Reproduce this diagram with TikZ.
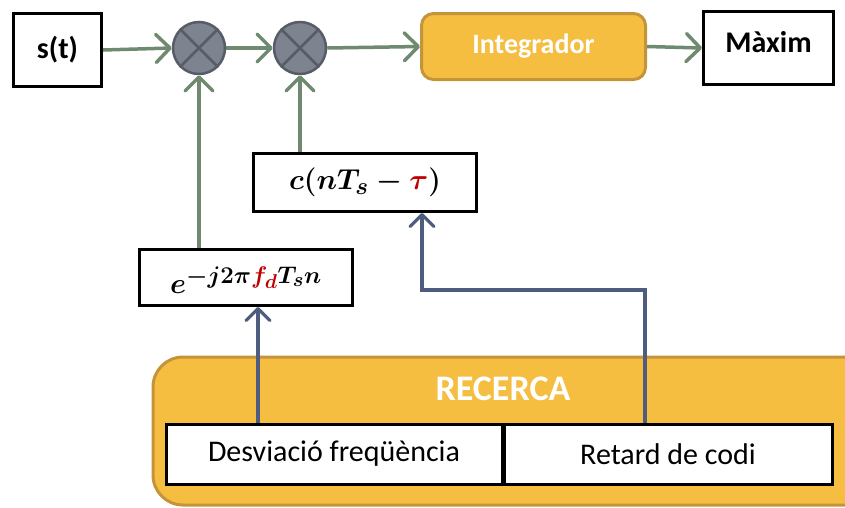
\documentclass[tikz,border=0pt]{standalone}
\usepackage{fontspec}
\setmainfont{Carlito}
\usetikzlibrary{arrows.meta}
\definecolor{flowgreen}{HTML}{6F8A6E}
\definecolor{linkblue}{HTML}{4E5D7E}
\definecolor{mixgray}{HTML}{7E8390}
\definecolor{mixedge}{HTML}{575C67}
\definecolor{amber}{HTML}{F5BE41}
\definecolor{amberedge}{HTML}{C4943A}
\definecolor{paramred}{HTML}{C00000}
% enlarged bold math for the replica formulas
\newcommand{\bigformula}[1]{\scalebox{1.16}{$#1$}}

\begin{document}
\begin{tikzpicture}[x=1pt,y=-1pt,
  blockbox/.style={draw=black, line width=3pt, fill=white, inner sep=0pt},
  amberbox/.style={draw=amberedge, line width=3pt, fill=amber, rounded corners=12pt, inner sep=0pt},
  mixer/.style={circle, draw=mixedge, line width=2.5pt, fill=mixgray, minimum size=52pt, inner sep=0pt},
  greenflow/.style={draw=flowgreen, line width=3.5pt, -{Straight Barb[length=14pt,width=28pt,round]}},
  blueflow/.style={draw=linkblue, line width=3.2pt, -{Straight Barb[length=12pt,width=24pt,round]}},
  boldlabel/.style={font=\fontsize{30}{34}\selectfont\bfseries},
  mathlabel/.style={font=\fontsize{24.88}{30}\selectfont\boldmath},
]
\clip (0,0) rectangle (845,507);
\fill[white] (0,0) rectangle (845,507);

% signal chain
\node[blockbox, minimum width=88pt, minimum height=73pt] (st) at (57.5,50) {};
\node[boldlabel] (sttext) at (st.center) {s(t)};
\node[mixer] (m1) at (199,48) {};
\node[mixer] (m2) at (300,48) {};
\foreach \m in {m1,m2}{
  \draw[mixedge, line width=2.5pt] (\m.45) -- (\m.225) (\m.135) -- (\m.315);
}
\node[amberbox, minimum width=224pt, minimum height=66pt] (integ) at (533.5,46.5) {};
\node[font=\fontsize{28}{32}\selectfont\bfseries, text=white] (integtext) at (integ.center) {Integrador};
\node[blockbox, minimum width=130pt, minimum height=73pt] (maxim) at (768.5,48) {};
\node[boldlabel] (maximtext) at (768.5,42) {Màxim};

% local replicas
\node[blockbox, minimum width=223pt, minimum height=58pt] (cbox) at (365,182.5) {};
\node[mathlabel] (ctext) at (cbox.center) {\bigformula{c(nT_s-{\color{paramred}\tau})}};
\node[blockbox, minimum width=213pt, minimum height=56pt] (ebox) at (246,277.5) {};
\node[mathlabel] (etext) at (246,280) {\bigformula{e^{-j2\pi {\color{paramred}f_d} T_s n}}};

% search block
\draw[draw=amberedge, line width=3pt, fill=amber, rounded corners=30pt] (153,357) rectangle (880,505);
\node[font=\fontsize{36}{40}\selectfont\bfseries, text=white] (recerca) at (503,389) {RECERCA};
\node[blockbox, minimum width=336pt, minimum height=60pt, font=\fontsize{30}{34}\selectfont] (desv) at (334,454) {Desviació freqüència};
\node[blockbox, minimum width=328pt, minimum height=60pt, font=\fontsize{30}{34}\selectfont] (ret) at (668,454) {Retard de codi};

% connectors
\draw[greenflow] (st.east) -- (m1.west);
\draw[greenflow] (m1.east) -- (m2.west);
\draw[greenflow] (m2.east) -- (integ.west);
\draw[greenflow] (integ.east) -- (maxim.west);
\draw[greenflow] (ebox.north -| m1) -- (m1.south);
\draw[greenflow] (cbox.north -| m2) -- (m2.south);

\coordinate (fdtip) at (258,307);
\coordinate (tautip) at (422,213);
\coordinate (bend) at (645,290);
\draw[blueflow] (desv.north -| fdtip) -- (fdtip);
\draw[blueflow] (ret.north -| bend) -- (bend) -| (tautip);
\end{tikzpicture}
\end{document}
